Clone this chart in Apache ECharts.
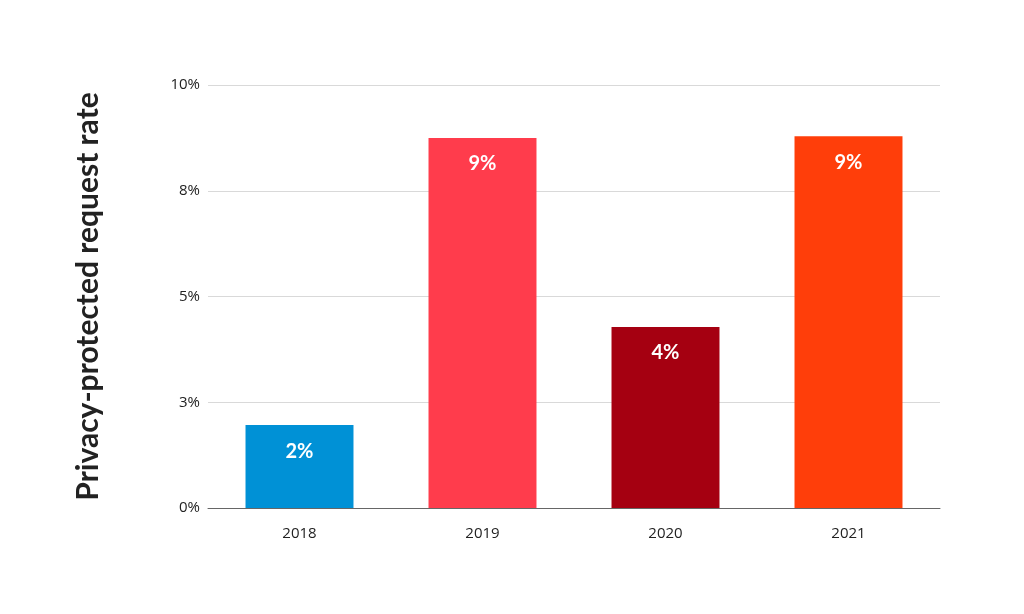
<!DOCTYPE html>
<html><head><meta charset="utf-8">
<script src="https://cdn.jsdelivr.net/npm/echarts@6/dist/echarts.min.js"></script>
<style>html,body{margin:0;background:#fff}#c{width:1024px;height:614px}</style>
</head><body><div id="c"></div>
<script>
const categories = ['2018', '2019', '2020', '2021'];
const values = [1.96, 8.75, 4.28, 8.79];
const colors = ['#0091d6', '#ff3c4c', '#a50011', '#ff3e0a'];
const chart = echarts.init(document.getElementById('c'));
chart.setOption({
  animation: false,
  grid: { left: 208, right: 84, top: 85, bottom: 106 },
  xAxis: {
    type: 'category', data: categories,
    axisLine: { lineStyle: { color: '#666' } },
    axisTick: { show: false },
    axisLabel: { color: '#222', fontSize: 15, fontFamily: 'Open Sans', margin: 18 }
  },
  yAxis: {
    type: 'value', min: 0, max: 10, interval: 2.5,
    name: 'Privacy-protected request rate', nameLocation: 'middle', nameGap: 105,
    nameTextStyle: { fontSize: 30, fontWeight: 'bold', color: '#222', fontFamily: 'Lato' },
    axisLabel: { formatter: v => Math.round(v) + '%', color: '#222', fontSize: 15, fontFamily: 'Open Sans', margin: 8 },
    splitLine: { lineStyle: { color: '#d9d9d9' } }
  },
  series: [{
    type: 'bar', barWidth: '59%',
    data: values.map((v, i) => ({ value: v, itemStyle: { color: colors[i] } })),
    label: { show: true, position: 'insideTop', distance: 16, color: '#fff', fontSize: 20, fontWeight: 'bold', fontFamily: 'Lato',
      formatter: p => Math.round(p.value) + '%' }
  }]
});
</script></body></html>
